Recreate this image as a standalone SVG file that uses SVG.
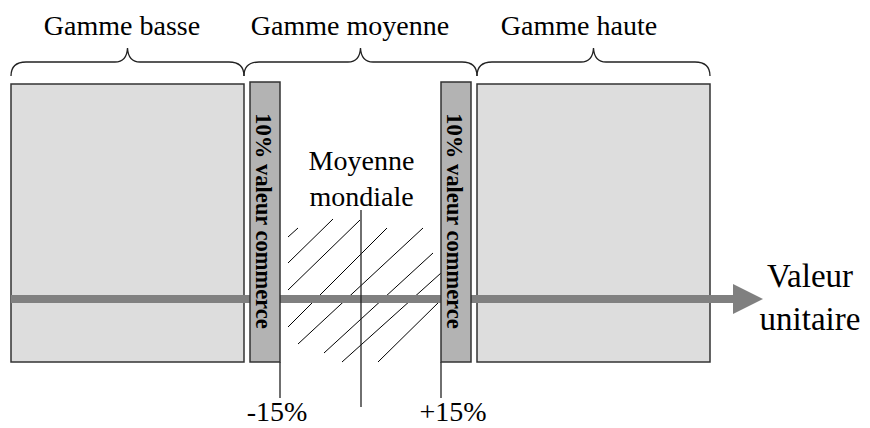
<svg xmlns="http://www.w3.org/2000/svg" width="870" height="428" viewBox="0 0 870 428" font-family="'Liberation Serif', 'DejaVu Serif', serif">
<style>
text{font-family:'Liberation Serif','DejaVu Serif',serif;fill:#000;}
.lbl{font-size:28px;text-anchor:middle;}
.vt{font-size:22.5px;font-weight:bold;text-anchor:middle;}
.box{fill:#dddddd;stroke:#333;stroke-width:1.5;}
.bar{fill:#b3b3b3;stroke:#333;stroke-width:1.5;}
.brace{fill:none;stroke:#222;stroke-width:1.3;}
.hatch{stroke:#000;stroke-width:1;fill:none;}
.vl{stroke:#222;stroke-width:1.3;}
</style>
<rect width="870" height="428" fill="#fff"/>

<g id="braces">
<path class="brace" d="M11 76 C11 66 16 62 26 62 L115 62 C122 62 127 58 127.5 48 C128 58 133 62 140 62 L229 62 C239 62 244 66 244 76"/>
<path class="brace" d="M244 76 C244 66 249 62 259 62 L348 62 C355 62 360 58 360.5 48 C361 58 366 62 373 62 L462 62 C472 62 477 66 477 76"/>
<path class="brace" d="M477 76 C477 66 482 62 492 62 L581 62 C588 62 593 58 593.5 48 C594 58 599 62 606 62 L695 62 C705 62 710 66 710 76"/>
</g>

<g id="labels-top">
<text class="lbl" x="122" y="35">Gamme basse</text>
<text class="lbl" x="350" y="35">Gamme moyenne</text>
<text class="lbl" x="579" y="35">Gamme haute</text>
</g>

<g id="gamme-basse"><rect class="box" x="11" y="84" width="233" height="278"/></g>
<g id="gamme-haute"><rect class="box" x="477" y="84" width="233" height="278"/></g>

<g id="hatch">
<line class="hatch" x1="288" y1="237" x2="298" y2="228"/>
<line class="hatch" x1="288" y1="263" x2="333" y2="219"/>
<line class="hatch" x1="288" y1="290" x2="360" y2="220"/>
<line class="hatch" x1="288" y1="327" x2="387" y2="228"/>
<line class="hatch" x1="298" y1="344" x2="423" y2="228"/>
<line class="hatch" x1="324" y1="353" x2="433" y2="253"/>
<line class="hatch" x1="342" y1="362" x2="441" y2="273"/>
<line class="hatch" x1="378" y1="362" x2="441" y2="300"/>
</g>

<g id="connectors">
<rect x="11" y="295" width="723" height="8" fill="#808080"/>
<polygon points="733,284 763,299 733,314" fill="#808080"/>
<line class="vl" x1="280" y1="362" x2="280" y2="398"/>
<line class="vl" x1="441" y1="362" x2="441" y2="398"/>
<line class="vl" x1="361" y1="210" x2="361" y2="407"/>
</g>

<g id="bar-gauche">
<rect class="bar" x="250" y="82" width="30" height="280"/>
<text class="vt" transform="translate(256,221) rotate(90)">10% valeur commerce</text>
</g>
<g id="bar-droite">
<rect class="bar" x="441" y="82" width="30" height="280"/>
<text class="vt" transform="translate(447,221) rotate(90)">10% valeur commerce</text>
</g>

<g id="moyenne">
<text class="lbl" x="361.5" y="170">Moyenne</text>
<text class="lbl" x="361.5" y="206">mondiale</text>
</g>

<g id="valeur">
<text class="lbl" x="810" y="287" style="font-size:33px">Valeur</text>
<text class="lbl" x="810" y="330" style="font-size:33px">unitaire</text>
</g>

<g id="pct">
<text class="lbl" x="277" y="421">-15%</text>
<text class="lbl" x="453" y="421">+15%</text>
</g>
</svg>
